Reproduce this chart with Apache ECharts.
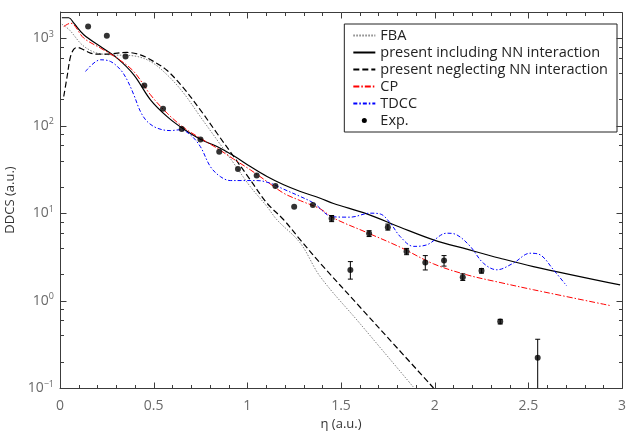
<!DOCTYPE html>
<html><head><meta charset="utf-8">
<script src="https://cdn.jsdelivr.net/npm/echarts@6/dist/echarts.min.js"></script>
<style>html,body{margin:0;padding:0;background:#fff}#c{width:626px;height:431px}</style>
</head><body><div id="c"></div>
<script>
// ---------- data ----------
const fbaEta = [0.01,0.05,0.109,0.15,0.198,0.27,0.39,0.483,0.572,0.66,0.749,0.838,0.927,1.016,1.105,1.158,1.283,1.389,1.6,1.887];
const fbaVal = [1450,1250,880,752,678,647,631,543,382,236,127,69,37.3,20.1,11.9,8.4,4.54,1.88,0.55,0.102];

const negEta = [0.02,0.038,0.056,0.074,0.092,0.127,0.163,0.198,0.27,0.358,0.429,0.5,0.572,0.66,0.749,0.838,0.927,1.016,1.105,1.194,1.283,1.389,1.6,1.8,1.994];
const negVal = [216,366,617,752,785,738,676,659,665,689,647,543,428,269,152,82,44.5,24,13,8.4,4.95,2.68,0.85,0.287,0.1];

const inclEta = [0.01,0.047,0.074,0.127,0.216,0.305,0.394,0.483,0.572,0.652,0.749,0.838,0.927,1.016,1.105,1.194,1.283,1.389,1.46,1.638,1.816,1.994,2.172,2.349,2.527,2.99];
const inclVal = [1720,1720,1490,1100,806,593,382,198,127,94,70,57.8,45.3,34.1,26.2,21.1,17.7,14.8,12.9,9.8,6.9,4.95,3.87,3.05,2.45,1.51];

const cpEta = [0.02,0.056,0.127,0.216,0.305,0.394,0.483,0.572,0.66,0.749,0.838,0.927,1.016,1.105,1.194,1.283,1.389,1.46,1.638,1.816,1.994,2.172,2.349,2.527,2.945];
const cpVal = [1365,1490,1005,773,593,417,226,139,95.5,72,55.4,41.5,31.3,23,16.9,13.9,11.2,8.8,6.0,4.08,2.63,1.97,1.61,1.33,0.87];

const tdccEta = [0.136,0.216,0.27,0.323,0.358,0.394,0.429,0.465,0.518,0.589,0.643,0.696,0.749,0.803,0.856,0.909,0.98,1.052,1.123,1.194,1.283,1.355,1.455,1.549,1.656,1.709,1.763,1.816,1.887,1.958,2.065,2.118,2.19,2.26,2.332,2.42,2.509,2.563,2.634,2.705];
const tdccVal = [417,568,543,437,335,226,146,112,94,88,90,78.7,57.8,34,26.2,23.6,23.6,23.6,22,18.8,15.5,13,9.1,9.0,10,9.8,7.7,5.4,4.17,4.34,5.9,5.65,4.17,2.68,2.25,2.68,3.48,3.34,2.25,1.47];

const expEta = [0.15,0.25,0.35,0.45,0.55,0.65,0.75,0.85,0.95,1.05,1.15,1.25,1.35,1.45,1.55,1.65,1.75,1.85,1.95,2.05,2.15,2.25,2.35,2.55];
const expVal = [1365,1068,619,288,156,91.5,69.5,50.3,31.9,26.9,20.4,11.8,12.4,8.67,2.24,5.85,6.92,3.64,2.72,2.87,1.85,2.19,0.575,0.222];
const expLow = [null,null,null,null,null,null,null,null,null,null,null,null,null,8.0,1.76,5.4,6.4,3.35,2.24,2.48,1.70,2.06,0.54,0.08];
const expHigh= [null,null,null,null,null,null,null,null,null,null,null,null,null,9.4,2.79,6.3,7.5,3.95,3.27,3.27,2.02,2.32,0.61,0.361];

const seriesNames = ['FBA','present including NN interaction','present neglecting NN interaction','CP','TDCC','Exp.'];
const xMin = 0, xMax = 3, yMin = 0.1, yMax = 2000;
const xMajor = [0,0.5,1,1.5,2,2.5,3];
const xMinor = [0.1,0.2,0.3,0.4,0.6,0.7,0.8,0.9,1.1,1.2,1.3,1.4,1.6,1.7,1.8,1.9,2.1,2.2,2.3,2.4,2.6,2.7,2.8,2.9];
const yMajor = [0.1,1,10,100,1000];
const yMinor = [0.2,0.4,0.6,0.8,2,4,6,8,20,40,60,80,200,400,600,800];

// ---------- chart ----------
const pair = (a,b) => a.map((x,i)=>[x,b[i]]);
const sup = {'-1':'\u22121','0':'0','1':'1','2':'2','3':'3'};
const FONT = "'Open Sans', 'DejaVu Sans', sans-serif";
const axisColor = '#3c3c3c';
const labelColor = '#6a6a6a';
const MAJ = 6, MIN = 3.5;

const lineS = (name, eta, val, color, type, width) => ({
  name, type: 'line', xAxisIndex: 0, yAxisIndex: 0, data: pair(eta, val),
  showSymbol: false, symbol: 'none', smooth: 0.35, silent: true, z: 3,
  lineStyle: {color, type, width}, itemStyle: {color}
});

const dotIcon = 'path://M0,0 M22,12 M8.5,6 a2.5,2.5 0 1,0 5,0 a2.5,2.5 0 1,0 -5,0 Z';
const crisp = v => Math.round(v) + 0.5;

const option = {
  animation: false,
  grid: {left: 60, right: 4, top: 12, bottom: 43, containLabel: false, outerBoundsMode: 'none'},
  xAxis: {
    type: 'value', min: xMin, max: xMax, interval: 0.5,
    axisLine: {show: true, onZero: false, lineStyle: {color: axisColor, width: 1}},
    axisTick: {show: false}, minorTick: {show: false},
    axisLabel: {show: true, fontFamily: FONT, color: labelColor, fontSize: 14, margin: 11},
    splitLine: {show: false},
    name: '\u03b7 (a.u.)', nameLocation: 'middle', nameGap: 24,
    nameTextStyle: {fontFamily: FONT, fontSize: 13, color: '#333'}
  },
  yAxis: {
    type: 'log', logBase: 10, min: yMin, max: yMax,
    axisLine: {show: true, onZero: false, lineStyle: {color: axisColor, width: 1}},
    axisTick: {show: false},
    axisLabel: {
      show: true, margin: 6, fontFamily: FONT, color: labelColor, fontSize: 14,
      formatter: v => { const e = Math.log10(v); if (Math.abs(e - Math.round(e)) > 1e-6) return ''; return '10{s|' + sup[String(Math.round(e))] + '}'; },
      rich: { s: {fontSize: 9, verticalAlign: 'top', padding:[0,0,8,0], color: labelColor, fontFamily: FONT} }
    },
    splitLine: {show: false},
    name: 'DDCS (a.u.)', nameLocation: 'middle', nameGap: 40,
    nameTextStyle: {fontFamily: FONT, fontSize: 13, color: '#333'}
  },
  legend: {
    show: true, orient: 'vertical', right: 9, top: 24,
    data: seriesNames.map(n => n === 'Exp.'
      ? {name: n, icon: dotIcon, itemStyle: {color: '#000', opacity: 1}}
      : {name: n, itemStyle: {opacity: 0}}),
    itemWidth: 22, itemHeight: 12, itemGap: 2,
    padding: [4, 9, 4, 8],
    borderColor: '#222', borderWidth: 1, backgroundColor: '#fff',
    textStyle: {fontFamily: FONT, fontSize: 14.5, color: '#222'},
    selectedMode: false
  },
  series: [
    lineS(seriesNames[0], fbaEta, fbaVal, '#808080', [1.5, 1.5], 1),
    lineS(seriesNames[1], inclEta, inclVal, '#000000', 'solid', 1.2),
    lineS(seriesNames[2], negEta, negVal, '#000000', [6, 3], 1.2),
    lineS(seriesNames[3], cpEta, cpVal, '#ff0000', [6, 2, 1.5, 2], 1),
    lineS(seriesNames[4], tdccEta, tdccVal, '#0000ff', [4, 2, 1.5, 2], 1),
    {
      name: seriesNames[5], type: 'scatter', xAxisIndex: 0, yAxisIndex: 0,
      data: pair(expEta, expVal), symbol: 'circle', symbolSize: 6,
      itemStyle: {color: '#000'}, z: 5, silent: true
    },
    {
      name: 'errbar', type: 'custom', xAxisIndex: 0, yAxisIndex: 0, z: 4, silent: true,
      data: expEta.map((x,i) => [x, expLow[i], expHigh[i]]).filter(d => d[1] != null),
      renderItem: (params, api) => {
        const x = api.value(0);
        const lo = api.coord([x, api.value(1)]);
        const hi = api.coord([x, api.value(2)]);
        const w = 2.5;
        const st = {stroke: '#000', lineWidth: 1};
        return {type: 'group', children: [
          {type: 'line', shape: {x1: lo[0], y1: lo[1], x2: hi[0], y2: hi[1]}, style: st},
          {type: 'line', shape: {x1: lo[0]-w, y1: lo[1], x2: lo[0]+w, y2: lo[1]}, style: st},
          {type: 'line', shape: {x1: hi[0]-w, y1: hi[1], x2: hi[0]+w, y2: hi[1]}, style: st}
        ]};
      },
      clip: true
    },
    {
      name: 'frame', type: 'custom', xAxisIndex: 0, yAxisIndex: 0, z: 6, silent: true, clip: false,
      data: [[xMin, 1]],
      renderItem: (params, api) => {
        const ch = [];
        const st = {stroke: axisColor, lineWidth: 1};
        const L = (x1, y1, x2, y2) => ch.push({type: 'line', shape: {x1, y1, x2, y2}, style: st});
        const bl = api.coord([xMin, yMin]), tr = api.coord([xMax, yMax]);
        const left = crisp(bl[0]), bottom = crisp(bl[1]), right = crisp(tr[0]), top = crisp(tr[1]);
        L(left, top, right, top);
        L(right, top, right, bottom);
        const xt = (v, len) => { const x = crisp(api.coord([v, yMin])[0]); L(x, bottom, x, bottom - len); L(x, top, x, top + len); };
        const yt = (v, len) => { const y = crisp(api.coord([xMin, v])[1]); L(left, y, left + len, y); L(right, y, right - len, y); };
        xMajor.forEach(v => xt(v, MAJ));
        xMinor.forEach(v => xt(v, MIN));
        yMajor.forEach(v => yt(v, MAJ));
        yMinor.forEach(v => yt(v, MIN));
        return {type: 'group', children: ch};
      }
    }
  ]
};
const chart = echarts.init(document.getElementById('c'), null, {renderer: 'canvas'});
chart.setOption(option);
</script></body></html>
